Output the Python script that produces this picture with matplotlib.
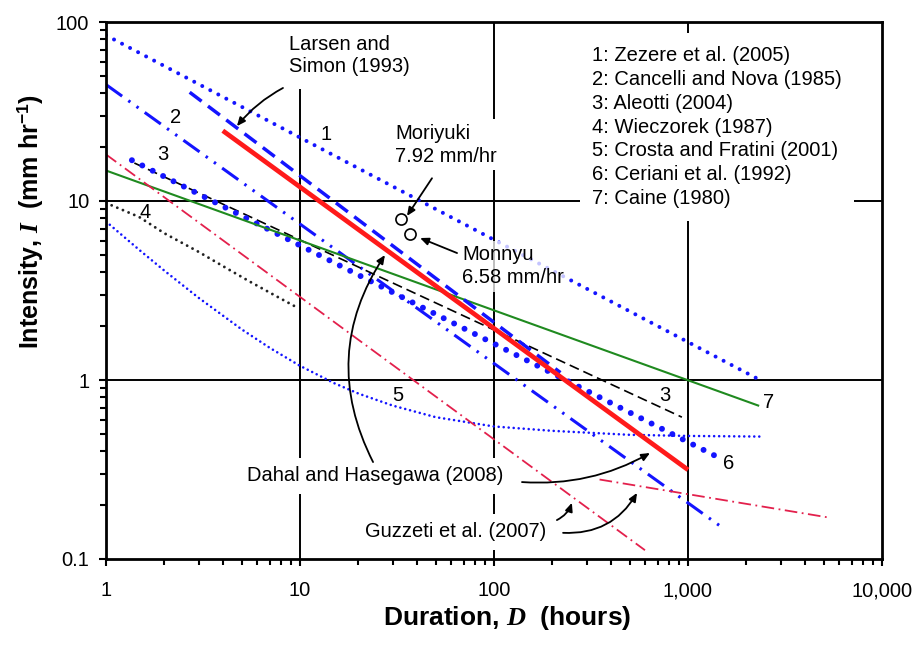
import matplotlib
matplotlib.use("Agg")
import matplotlib.pyplot as plt

plt.rcParams['font.family'] = ['Liberation Sans', 'DejaVu Sans']
plt.rcParams['mathtext.fontset'] = 'custom'
plt.rcParams['mathtext.rm'] = 'Liberation Sans:bold'
plt.rcParams['mathtext.bf'] = 'Liberation Sans:bold'
plt.rcParams['mathtext.it'] = 'Liberation Serif:italic:bold'

# ---- rainfall intensity-duration thresholds (D in hours, I in mm/hr) ----
dur_zezere = [1, 2350]
int_zezere = [84.3, 1.0]
dur_cancelli = [1, 1500]
int_cancelli = [44.7, 0.15]
dur_aleotti = [1.4, 930]
int_aleotti = [16.3, 0.62]
dur_wieczorek = [1, 1.48, 2.0, 3.0, 4.2, 5.5, 7.5, 9.6]
int_wieczorek = [9.75, 8.15, 6.6, 5.2, 4.2, 3.55, 2.95, 2.55]
dur_crosta = [1, 1.5, 2, 3, 5, 7, 10, 15, 20, 30, 50, 100, 200, 500, 1000, 2400]
int_crosta = [7.68, 5.28, 4.08, 2.88, 1.92, 1.51, 1.20, 0.96, 0.84, 0.72,
              0.62, 0.55, 0.52, 0.494, 0.487, 0.483]
dur_ceriani = [1.36, 1430]
int_ceriani = [16.9, 0.37]
dur_caine = [1, 2300]
int_caine = [14.8, 0.72]
dur_larsen = [2.7, 220]
int_larsen = [40.5, 1.1]
dur_dahal = [4, 1000]
int_dahal = [24.7, 0.315]
dur_guzzetti_a = [1, 600]
int_guzzetti_a = [18.2, 0.112]
dur_guzzetti_b = [350, 5400]
int_guzzetti_b = [0.278, 0.17]

# ---- observed landslide-triggering events ----
event_names = ["Moriyuki", "Monnyu"]
event_dur = [33.3, 37.1]
event_int = [7.92, 6.58]

legend_lines = [
    "1: Zezere et al. (2005)",
    "2: Cancelli and Nova (1985)",
    "3: Aleotti (2004)",
    "4: Wieczorek (1987)",
    "5: Crosta and Fratini (2001)",
    "6: Ceriani et al. (1992)",
    "7: Caine (1980)",
]

x_ticks = [1, 10, 100, 1000, 10000]
x_tick_labels = ["1", "10", "100", "1,000", "10,000"]
y_ticks = [0.1, 1, 10, 100]
y_tick_labels = ["0.1", "1", "10", "100"]

BLUE = "#1414ff"
RED = "#ff1a1a"
PINK = "#e3204c"
GREEN = "#1f8a1f"

fig = plt.figure(figsize=(9.19, 6.45), dpi=100)
ax = fig.add_axes([106 / 919, 1 - 559 / 645, 776 / 919, 537 / 645])
ax.set_xscale("log")
ax.set_yscale("log")
ax.set_xlim(1, 10000)
ax.set_ylim(0.1, 100)

# decade grid
for gx in [10, 100, 1000]:
    ax.axvline(gx, color="black", lw=1.4, zorder=1)
for gy in [1, 10]:
    ax.axhline(gy, color="black", lw=1.4, zorder=1)

# threshold curves
ax.plot(dur_zezere, int_zezere, color=BLUE, lw=2.9, linestyle=(0, (0.001, 2.25)),
        dash_capstyle="round", zorder=3)
ax.plot(dur_cancelli, int_cancelli, color=BLUE, lw=2.2,
        linestyle=(0, (6.5, 2.5, 0.8, 2.5, 0.8, 2.5)), zorder=3)
ax.plot(dur_aleotti, int_aleotti, color="black", lw=1.2, linestyle=(0, (6, 3)), zorder=3)
ax.plot(dur_wieczorek, int_wieczorek, color="#222222", lw=2.1,
        linestyle=(0, (0.001, 2.1)), dash_capstyle="round", zorder=3)
ax.plot(dur_crosta, int_crosta, color=BLUE, lw=1.9, linestyle=(0, (0.001, 1.9)),
        dash_capstyle="round", zorder=3)
ax.plot(dur_ceriani, int_ceriani, color=BLUE, lw=4.3, linestyle=(0, (0.001, 1.95)),
        dash_capstyle="round", zorder=3)
ax.plot(dur_caine, int_caine, color=GREEN, lw=1.5, zorder=3)
ax.plot(dur_larsen, int_larsen, color=BLUE, lw=2.5, linestyle=(0, (4.3, 2.3)), zorder=3)
ax.plot(dur_guzzetti_a, int_guzzetti_a, color=PINK, lw=1.3,
        linestyle=(0, (7, 2.5, 1, 2.5)), zorder=3)
ax.plot(dur_guzzetti_b, int_guzzetti_b, color=PINK, lw=1.3,
        linestyle=(0, (7, 2.5, 1, 2.5)), zorder=3)
ax.plot(dur_dahal, int_dahal, color=RED, lw=3.4, solid_capstyle="butt", zorder=4)

ax.plot(event_dur, event_int, linestyle="none", marker="o", ms=8, mfc="white",
        mec="black", mew=1.2, zorder=6)

# curve numbers
fs = 14.5
num_labels = [("1", 13.6, 23.4), ("2", 2.27, 29.4), ("3", 1.97, 18.3), ("4", 1.59, 8.57),
              ("5", 32, 0.824), ("3", 761, 0.824), ("6", 1627, 0.343), ("7", 2617, 0.753)]
for t, x, y in num_labels:
    ax.text(x, y, t, fontsize=fs, ha="center", va="center", zorder=7)

box = dict(facecolor="white", edgecolor="none", pad=6)
ls2 = 1.3

ax.text(8.78, 64.6, "Larsen and\nSimon (1993)", fontsize=fs, ha="left", va="center",
        linespacing=1.2, bbox=dict(facecolor="white", edgecolor="none", pad=9), zorder=7)
ax.text(30.9, 20.6, "Moriyuki\n7.92 mm/hr", fontsize=fs, ha="left", va="center",
        linespacing=ls2, bbox=dict(facecolor="white", edgecolor="none", pad=3), zorder=7)
ax.text(68.4, 4.33, "Monnyu\n6.58 mm/hr", fontsize=fs, ha="left", va="center",
        linespacing=ls2,
        bbox=dict(facecolor="white", edgecolor="none", alpha=0.75, pad=3), zorder=7)
ax.text(320, 25.9, "\n".join(legend_lines), fontsize=fs, ha="left", va="center",
        linespacing=1.33, bbox=dict(facecolor="white", edgecolor="none", pad=9), zorder=7)
ax.text(24.4, 0.291, "Dahal and Hasegawa (2008)", fontsize=fs, ha="center", va="center",
        bbox=box, zorder=7)
ax.text(63.7, 0.1416, "Guzzeti et al. (2007)", fontsize=fs, ha="center", va="center",
        bbox=box, zorder=7)

# leader arrows
arrow_specs = [
    ((8.17, 42.8), (4.73, 26.2), 0.1),
    ((47.9, 13.4), (35.6, 8.25), 0.0),
    ((64.5, 5.12), (41.6, 6.21), 0.0),
    ((23.8, 0.348), (27.4, 4.99), -0.29),
    ((139.4, 0.269), (637, 0.391), 0.15),
    ((227, 0.14), (546, 0.234), 0.3),
    ((211, 0.165), (252, 0.206), 0.2),
]
for start, end, rad in arrow_specs:
    ax.annotate("", xy=end, xytext=start, zorder=8,
                arrowprops=dict(arrowstyle="-|>,head_length=0.5,head_width=0.22",
                                color="black", lw=1.3, shrinkA=0, shrinkB=0,
                                connectionstyle=f"arc3,rad={rad}"))

# axes styling
for s in ax.spines.values():
    s.set_linewidth(2.0)
    s.set_zorder(9)
ax.set_xticks(x_ticks)
ax.set_xticklabels(x_tick_labels)
ax.set_yticks(y_ticks)
ax.set_yticklabels(y_tick_labels)
ax.tick_params(which="both", direction="out", top=False, right=False,
               labelsize=fs, width=1.5)
ax.tick_params(which="major", length=5, pad=7)
ax.tick_params(axis="x", which="major", pad=11)
ax.tick_params(which="minor", length=4.5)
ax.xaxis.set_minor_formatter(matplotlib.ticker.NullFormatter())
ax.yaxis.set_minor_formatter(matplotlib.ticker.NullFormatter())

ax.set_xlabel(r"Duration, $\mathit{D}$  (hours)", fontsize=19, fontweight="bold")
ax.set_ylabel(r"Intensity, $\mathit{I}$  (mm hr$^{\mathbf{-1}}$)", fontsize=18,
              fontweight="bold")
ax.xaxis.set_label_coords(0.517, -0.084)
ax.yaxis.set_label_coords(-0.078, 0.628)

fig.savefig("out.png", dpi=100)
